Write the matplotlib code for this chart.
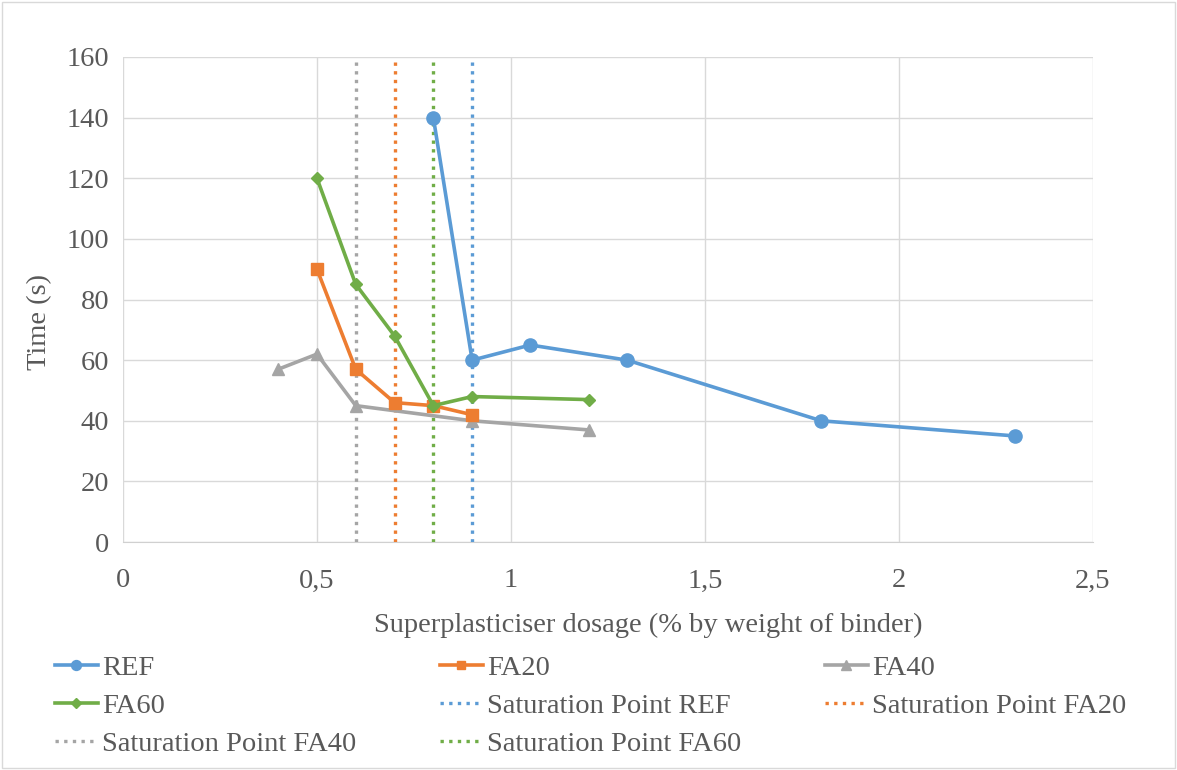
import matplotlib
matplotlib.use("Agg")
import matplotlib.pyplot as plt
from matplotlib.ticker import FuncFormatter, MultipleLocator

plt.rcParams['font.family'] = ['Liberation Serif', 'DejaVu Serif']

ref_x = [0.8, 0.9, 1.05, 1.3, 1.8, 2.3]
ref_y = [140, 60, 65, 60, 40, 35]
fa20_x = [0.5, 0.6, 0.7, 0.8, 0.9]
fa20_y = [90, 57, 46, 45, 42]
fa40_x = [0.4, 0.5, 0.6, 0.9, 1.2]
fa40_y = [57, 62, 45, 40, 37]
fa60_x = [0.5, 0.6, 0.7, 0.8, 0.9, 1.2]
fa60_y = [120, 85, 68, 45, 48, 47]
sat_names = ["Saturation Point REF", "Saturation Point FA20", "Saturation Point FA40", "Saturation Point FA60"]
sat_x = [0.9, 0.7, 0.6, 0.8]

blue, orange, gray, green = "#5B9BD5", "#ED7D31", "#A5A5A5", "#70AD47"
txt = "#595959"

fig = plt.figure(figsize=(11.77, 7.70), dpi=100)
ax = fig.add_axes([0.1045, 0.296, 0.824, 0.630])

h_ref, = ax.plot(ref_x, ref_y, color=blue, lw=2.6, marker='o', ms=9.5, label="REF", zorder=5)
h_fa20, = ax.plot(fa20_x, fa20_y, color=orange, lw=2.6, marker='s', ms=8.5, label="FA20", zorder=5)
h_fa40, = ax.plot(fa40_x, fa40_y, color=gray, lw=2.6, marker='^', ms=9, label="FA40", zorder=4)
h_fa60, = ax.plot(fa60_x, fa60_y, color=green, lw=2.6, marker='D', ms=6.5, label="FA60", zorder=6)

sat_colors = [blue, orange, gray, green]
sat_handles = []
for name, xv, c in zip(sat_names, sat_x, sat_colors):
    h, = ax.plot([xv, xv], [0, 160], color=c, lw=2.4, linestyle=(0, (1, 1.6)), label=name, zorder=3)
    sat_handles.append(h)

ax.set_xlim(0, 2.5)
ax.set_ylim(0, 160)
ax.xaxis.set_major_locator(MultipleLocator(0.5))
ax.yaxis.set_major_locator(MultipleLocator(20))
ax.xaxis.set_major_formatter(FuncFormatter(lambda v, p: ("%g" % v).replace('.', ',')))
ax.grid(True, color="#D9D9D9", lw=1.0, zorder=0)
ax.set_axisbelow(True)
for s in ['top', 'right', 'left']:
    ax.spines[s].set_visible(False)
ax.spines['bottom'].set_color("#D0D0D0")
ax.tick_params(axis='both', length=0, labelsize=20.5, colors=txt)
ax.tick_params(axis='x', pad=19)
ax.tick_params(axis='y', pad=10)
ax.set_xlabel("Superplasticiser dosage (% by weight of binder)", fontsize=20.5, color=txt, labelpad=14)
ax.xaxis.label.set_x((648 - 123) / 970)
ax.set_ylabel("Time (s)", fontsize=20.5, color=txt, labelpad=10)
ax.yaxis.label.set_y((542 - 322) / 485)

# legend laid out in rows of three, like the reference
cols = [
    ([h_ref, h_fa60, sat_handles[2]], 55),
    ([h_fa20, sat_handles[0], sat_handles[3]], 440),
    ([h_fa40, sat_handles[1]], 825),
]
W, H = 1177, 770
for hs, xpx in cols:
    leg = fig.legend(handles=hs, labels=[h.get_label() for h in hs], loc='upper left',
                     bbox_to_anchor=(xpx / W, 1 - 655 / H), frameon=False, fontsize=20.5,
                     handlelength=1.5, handletextpad=0.14, labelspacing=0.43,
                     borderpad=0, borderaxespad=0, markerscale=0.75)
    for t in leg.get_texts():
        t.set_color(txt)

fig.patches.append(plt.Rectangle((0.002, 0.002), 0.996, 0.996, transform=fig.transFigure,
                                 fill=False, edgecolor="#D9D9D9", lw=1))
fig.savefig("out.png", dpi=100, facecolor="white")
